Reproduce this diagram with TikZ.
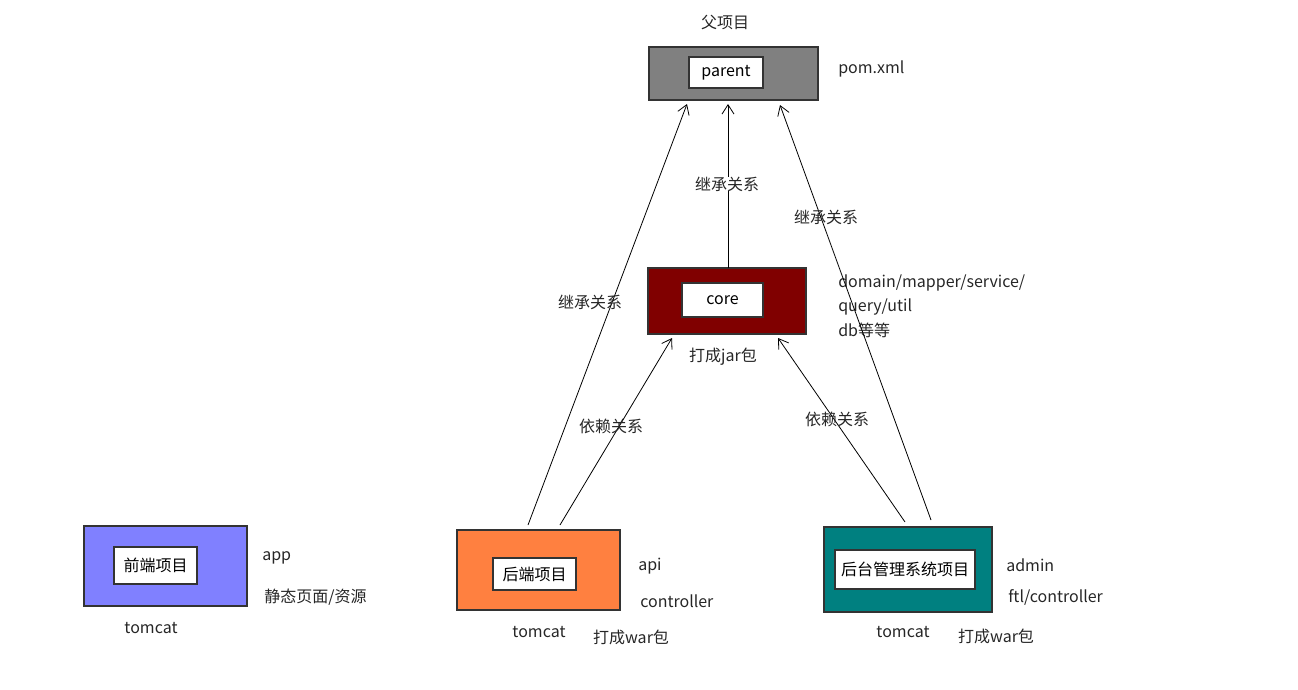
\documentclass[tikz,border=0pt]{standalone}
\usepackage{fontspec}
\setmainfont{Noto Sans CJK SC}
\usetikzlibrary{arrows.meta}
\definecolor{boxgray}{RGB}{128,128,128}
\definecolor{boxred}{RGB}{128,0,0}
\definecolor{boxblue}{RGB}{128,128,255}
\definecolor{boxorange}{RGB}{255,128,64}
\definecolor{boxteal}{RGB}{0,128,128}
\begin{document}
\begin{tikzpicture}[x=0.75pt,y=-0.75pt,
                    font=\fontsize{12}{14}\selectfont,
                    outer/.style={draw=black!80,line width=0.8pt,inner sep=0pt},
                    inner/.style={draw=black!80,fill=white,line width=0.8pt,inner sep=0pt},
                    lbl/.style={inner sep=0pt,text=black!85},
                    rel/.style={line width=0.6pt,-{Straight Barb[length=7pt,width=9pt]}}]
                    \useasboundingbox (0,0) rectangle (1298,689);
                    \node[outer,fill=boxgray,minimum width=126.75pt,minimum height=39.75pt] (parentbox) at (733.5,73.5) {};
                    \node[inner,minimum width=55.5pt,minimum height=23.25pt] (parent) at (726,72.5) {parent};
                    \node[outer,fill=boxred,minimum width=118.5pt,minimum height=49.5pt] (corebox) at (727,301) {};
                    \node[inner,minimum width=60.75pt,minimum height=25.5pt] (core) at (722.5,300) {core};
                    \node[outer,fill=boxblue,minimum width=122.25pt,minimum height=60pt] (frontbox) at (165.5,566) {};
                    \node[inner,minimum width=62.25pt,minimum height=27.75pt] (front) at (155.5,565.5) {前端项目};
                    \node[outer,fill=boxorange,minimum width=122.25pt,minimum height=60pt] (backbox) at (538.5,570) {};
                    \node[inner,minimum width=62.25pt,minimum height=24pt] (back) at (534.5,574) {后端项目};
                    \node[outer,fill=boxteal,minimum width=126pt,minimum height=63.75pt] (adminbox) at (908,569.5) {};
                    \node[inner,minimum width=105pt,minimum height=29.25pt] (admin) at (905,569.5) {后台管理系统项目};
                    \node[lbl] (fatitle) at (725,22) {父项目};
                    \node[lbl,anchor=west] (pom) at (838,69) {pom.xml};
                    \node[lbl,anchor=west] (coretxta) at (838,283) {domain/mapper/service/};
                    \node[lbl,anchor=west] (coretxtb) at (838,307) {query/util};
                    \node[lbl,anchor=west] (coretxtc) at (838,330) {db等等};
                    \node[lbl] (jar) at (723,357) {打成jar包};
                    \node[lbl,anchor=west] (app) at (262,558) {app};
                    \node[lbl,anchor=west] (static) at (264,597) {静态页面/资源};
                    \node[lbl] (tomcata) at (151,628) {tomcat};
                    \node[lbl,anchor=west] (api) at (638,566) {api};
                    \node[lbl,anchor=west] (ctrl) at (640,601) {controller};
                    \node[lbl] (tomcatb) at (539,632) {tomcat};
                    \node[lbl] (wara) at (631,637) {打成war包};
                    \node[lbl,anchor=west] (adm) at (1006,565) {admin};
                    \node[lbl,anchor=west] (ftl) at (1008,597) {ftl/controller};
                    \node[lbl] (tomcatc) at (903,632) {tomcat};
                    \node[lbl] (warb) at (996,636) {打成war包};
                    \coordinate (pl) at (687,104);
                    \coordinate (pm) at (728,104);
                    \coordinate (pr) at (780,105);
                    \coordinate (cl) at (672,338);
                    \coordinate (cr) at (778,338);
                    \coordinate (ct) at (728,268);
                    \coordinate (bl) at (528,525);
                    \coordinate (br) at (560,525);
                    \coordinate (al) at (905,522);
                    \coordinate (ar) at (931,520);
                    \draw[rel] (ct) -- (pm);
                    \draw[rel] (bl) -- (pl);
                    \draw[rel] (br) -- (cl);
                    \draw[rel] (ar) -- (pr);
                    \draw[rel] (al) -- (cr);
                    \node[lbl,fill=white] (inha) at (727,184) {继承关系};
                    \node[lbl] (inhb) at (826,217) {继承关系};
                    \node[lbl] (inhc) at (590,302) {继承关系};
                    \node[lbl] (depa) at (611,426) {依赖关系};
                    \node[lbl] (depb) at (837,419) {依赖关系};
\end{tikzpicture}
\end{document}
